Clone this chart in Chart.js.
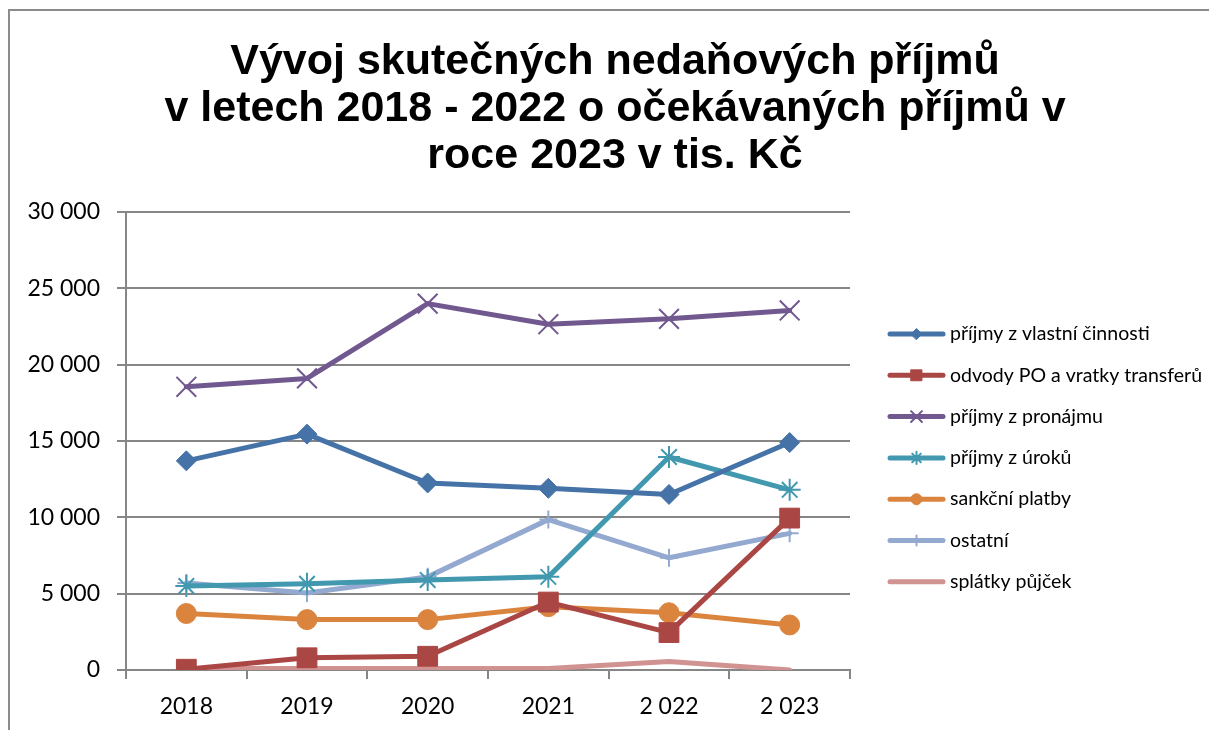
<!DOCTYPE html>
<html>
<head>
<meta charset="utf-8">
<script src="https://cdn.jsdelivr.net/npm/chart.js@4.4.0/dist/chart.umd.min.js"></script>
<style>
html,body{margin:0;padding:0;background:#fff;}
#wrap{width:1209px;height:730px;position:relative;}
</style>
</head>
<body>
<div id="wrap"><canvas id="c"></canvas></div>
<script>
const categories = ['2018', '2019', '2020', '2021', '2 022', '2 023'];
const titleLines = ['Vývoj skutečných nedaňových příjmů', 'v letech 2018 - 2022 o očekávaných příjmů v', 'roce 2023 v tis. Kč'];
const seriesNames = ['příjmy z vlastní činnosti', 'odvody PO a vratky transferů', 'příjmy z pronájmu', 'příjmy z úroků', 'sankční platby', 'ostatní', 'splátky půjček'];
const vlastniCinnost = [13700, 15450, 12250, 11900, 11500, 14900];
const odvodyPO = [50, 800, 900, 4450, 2450, 9950];
const pronajem = [18550, 19100, 24000, 22650, 23000, 23550];
const uroky = [5500, 5650, 5900, 6100, 13950, 11800];
const sankcni = [3700, 3300, 3300, 4150, 3750, 2950];
const ostatni = [5700, 5050, 6100, 9850, 7350, 8950];
const splatky = [100, 100, 100, 100, 550, 0];
const yTicks = [0, 5000, 10000, 15000, 20000, 25000, 30000];

const colors = ['#4572A7', '#AA4643', '#71588F', '#4198AF', '#DB843D', '#93A9CF', '#D19392'];
const styles = [
  {ps: 'rectRot', r: 10, bw: 1},
  {ps: 'rect', r: 14, bw: 1},
  {ps: 'crossRot', r: 14, bw: 2},
  {ps: 'star', r: 11, bw: 2},
  {ps: 'circle', r: 10, bw: 1},
  {ps: 'cross', r: 9, bw: 2},
  {ps: false, r: 0, bw: 0}
];
const seriesData = [vlastniCinnost, odvodyPO, pronajem, uroky, sankcni, ostatni, splatky];

const datasets = seriesData.map((d, i) => ({
  label: seriesNames[i],
  data: d,
  borderColor: colors[i],
  backgroundColor: colors[i],
  borderWidth: 5,
  pointStyle: styles[i].ps,
  pointRadius: styles[i].r,
  pointHoverRadius: styles[i].r,
  pointBorderWidth: styles[i].bw,
  pointBorderColor: colors[i],
  pointBackgroundColor: colors[i],
  tension: 0,
  fill: false,
  borderCapStyle: 'round',
  borderJoinStyle: 'round'
}));

const fmt = v => String(v).replace(/\B(?=(\d{3})+(?!\d))/g, ' ');

const framePlugin = {
  id: 'frame',
  beforeDraw(chart) {
    const ctx = chart.ctx;
    ctx.save();
    ctx.fillStyle = '#fff';
    ctx.fillRect(0, 0, chart.width, chart.height);
    ctx.strokeStyle = '#8c8c8c';
    ctx.lineWidth = 2;
    ctx.beginPath();
    ctx.moveTo(9, 730);
    ctx.lineTo(9, 10);
    ctx.lineTo(1209, 10);
    ctx.stroke();
    ctx.restore();
  },
  afterDraw(chart) {
    const ctx = chart.ctx;
    ctx.save();
    // title
    ctx.fillStyle = '#000';
    ctx.font = 'bold 43px "Liberation Sans", Arial, sans-serif';
    ctx.textAlign = 'center';
    ctx.textBaseline = 'alphabetic';
    const bases = [74, 121, 168];
    titleLines.forEach((t, i) => ctx.fillText(t, 615, bases[i]));
    // legend
    const lx0 = 890, lx1 = 943, ty0 = 334, step = 41.3;
    ctx.font = '19.5px Lato, "Noto Sans", sans-serif';
    ctx.textAlign = 'left';
    ctx.textBaseline = 'middle';
    chart.data.datasets.forEach((ds, i) => {
      const y = ty0 + i * step;
      ctx.strokeStyle = ds.borderColor;
      ctx.lineWidth = 5;
      ctx.lineCap = 'round';
      ctx.beginPath();
      ctx.moveTo(lx0, y);
      ctx.lineTo(lx1, y);
      ctx.stroke();
      if (ds.pointStyle) {
        ctx.fillStyle = ds.pointBackgroundColor;
        ctx.strokeStyle = ds.pointBorderColor;
        ctx.lineWidth = ds.pointBorderWidth;
        Chart.helpers.drawPoint(ctx, {pointStyle: ds.pointStyle, radius: ds.pointRadius * 0.55, borderWidth: ds.pointBorderWidth, rotation: 0}, (lx0 + lx1) / 2, y);
      }
      ctx.fillStyle = '#000';
      ctx.fillText(ds.label, 950, y);
    });
    ctx.restore();
  }
};

new Chart(document.getElementById('c'), {
  type: 'line',
  data: {labels: categories, datasets: datasets},
  options: {
    responsive: true,
    maintainAspectRatio: false,
    animation: false,
    layout: {padding: {left: 0, top: 212, right: 359, bottom: 0}},
    plugins: {
      legend: {display: false},
      title: {display: false},
      tooltip: {enabled: false}
    },
    scales: {
      x: {
        offset: true,
        afterFit: s => { s.height = 60; },
        grid: {offset: true, drawOnChartArea: false, drawTicks: true, tickLength: 9, color: '#868686', lineWidth: 2},
        border: {display: true, color: '#868686', width: 2},
        ticks: {color: '#000', font: {family: 'Lato, "Noto Sans", sans-serif', size: 23}, padding: 14, maxRotation: 0, autoSkip: false}
      },
      y: {
        min: 0,
        max: 30000,
        afterFit: s => { s.width = 126; },
        afterBuildTicks: s => { s.ticks = yTicks.map(v => ({value: v})); },
        grid: {color: '#868686', lineWidth: 2, drawTicks: true, tickLength: 9},
        border: {display: true, color: '#868686', width: 2},
        ticks: {color: '#000', font: {family: 'Lato, "Noto Sans", sans-serif', size: 23}, padding: 17, callback: v => fmt(v)}
      }
    }
  },
  plugins: [framePlugin]
});
</script>
</body>
</html>
